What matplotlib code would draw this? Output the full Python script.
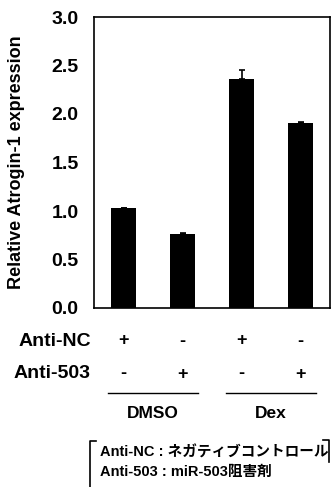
import matplotlib
matplotlib.use("Agg")
import matplotlib.pyplot as plt
from matplotlib.transforms import blended_transform_factory
from matplotlib.lines import Line2D

groups = ["DMSO", "Dex"]
anti_nc = ["+", "-", "+", "-"]
anti_503 = ["-", "+", "-", "+"]
values = [1.03, 0.76, 2.36, 1.91]
errors = [0.0, 0.01, 0.09, 0.01]
yticks = [0.0, 0.5, 1.0, 1.5, 2.0, 2.5, 3.0]
legend_lines = ["Anti-NC : ネガティブコントロール", "Anti-503 : miR-503阻害剤"]

plt.rcParams["font.family"] = ["Liberation Sans", "Noto Sans CJK JP", "DejaVu Sans"]
W, H = 331, 487
fig = plt.figure(figsize=(W / 100, H / 100), dpi=100)
ax = fig.add_axes([94 / W, 1 - 308 / H, 236 / W, 291 / H])

x = list(range(len(values)))
ax.bar(x, values, width=0.43, color="black")
ax.errorbar(x, values, yerr=[[0] * len(errors), errors], fmt="none",
            ecolor="black", elinewidth=1.2, capsize=2.5, capthick=1.2)
ax.set_xlim(-0.5, 3.5)
ax.set_ylim(0, 3.0)
ax.set_yticks(yticks)
ax.set_yticklabels(["%.1f" % v for v in yticks], fontsize=14, fontweight="bold")
ax.tick_params(axis="y", length=0, pad=11)
ax.set_xticks([])
for s in ax.spines.values():
    s.set_linewidth(1.2)
ax.set_ylabel("Relative Atrogin-1 expression", fontsize=13, fontweight="bold")
ax.yaxis.set_label_coords(-0.292, 0.5)

tr = blended_transform_factory(ax.transData, fig.transFigure)
fy = lambda py: 1 - py / H
fig.text(91 / W, fy(341), "Anti-NC", ha="right", va="center", fontsize=14, fontweight="bold")
fig.text(91 / W, fy(374), "Anti-503", ha="right", va="center", fontsize=14, fontweight="bold")
for xi, a, b in zip(x, anti_nc, anti_503):
    ax.text(xi, fy(341), a, transform=tr, ha="center", va="center", fontsize=13, fontweight="bold")
    ax.text(xi, fy(374), b, transform=tr, ha="center", va="center", fontsize=13, fontweight="bold")
for gi, g in enumerate(groups):
    c = 2 * gi + 0.5
    fig.add_artist(Line2D([c - 0.76, c + 0.76], [fy(392.5), fy(392.5)], transform=tr,
                          color="black", lw=1))
    ax.text(c, fy(413), g, transform=tr, ha="center", va="center", fontsize=12.5, fontweight="bold")

# legend bracket
px = lambda v: v / W
fig.add_artist(Line2D([px(96), px(90), px(90)], [fy(441), fy(441), fy(487)],
                      transform=fig.transFigure, color="black", lw=1.2))
fig.add_artist(Line2D([px(323), px(329), px(329)], [fy(440), fy(440), fy(462)],
                      transform=fig.transFigure, color="black", lw=1.2))
fig.text(px(100), fy(453), legend_lines[0], ha="left", va="center", fontsize=10.5, fontweight="bold")
fig.text(px(100), fy(472), legend_lines[1], ha="left", va="center", fontsize=10.5, fontweight="bold")

fig.savefig("out.png", dpi=100)
